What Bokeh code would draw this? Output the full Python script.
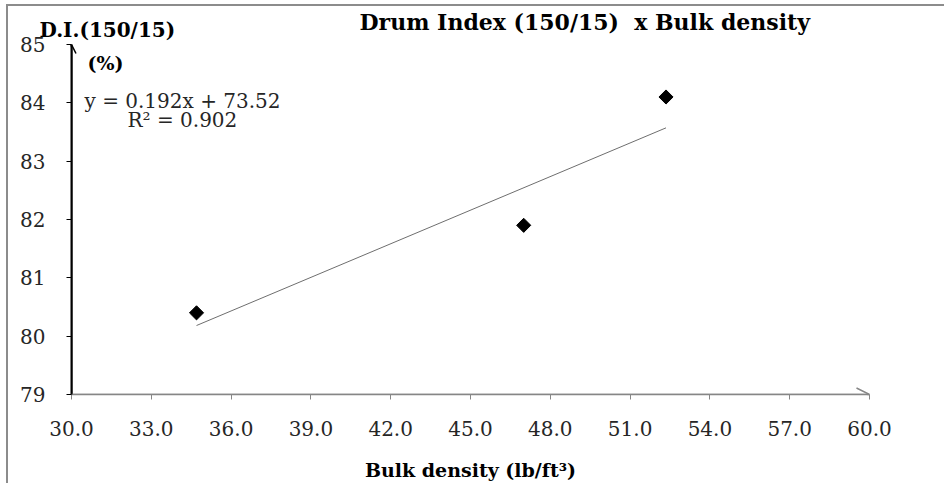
import math
from bokeh.plotting import figure
from bokeh.models import (Label, Arrow, OpenHead, FixedTicker, PrintfTickFormatter,
                          ColumnDataSource, Range1d, Title)
from bokeh.embed import file_html
from bokeh.resources import INLINE

# ---- data ----
bulk_density = [34.7, 47.0, 52.35]          # lb/ft^3
drum_index = [80.4, 81.9, 84.1]             # D.I.(150/15) %
trend_slope = 0.192
trend_intercept = 73.52
r_squared = 0.902
x_ticks = [30.0, 33.0, 36.0, 39.0, 42.0, 45.0, 48.0, 51.0, 54.0, 57.0, 60.0]
y_ticks = [79, 80, 81, 82, 83, 84, 85]

title_text = "Drum Index (150/15)\u00a0 x Bulk density"
x_label_text = "Bulk density (lb/ft\u00b3)"
y_label_line1 = "D.I.(150/15)"
y_label_line2 = "(%)"
eq_text = "y = %.3fx + %.2f" % (trend_slope, trend_intercept)
r2_text = "R\u00b2 = %.3f" % r_squared

FONT = "DejaVu Serif"
X_MIN, X_MAX = x_ticks[0], x_ticks[-1]
Y_MIN, Y_MAX = y_ticks[0], y_ticks[-1]

p = figure(frame_width=798, frame_height=350,
           x_range=Range1d(X_MIN, X_MAX), y_range=Range1d(Y_MIN, Y_MAX),
           min_border_left=63, min_border_right=75, min_border_top=38, min_border_bottom=80,
           output_backend="svg", toolbar_location=None)
p.styles = {"border-top": "2px solid #8c8c8c", "border-left": "2px solid #8c8c8c",
            "margin-top": "4px", "margin-left": "6px"}
p.title.visible = False
p.xgrid.visible = False
p.ygrid.visible = False
p.outline_line_color = None
p.background_fill_color = "white"
p.border_fill_color = "white"

# titles placed in the top panel (not clipped by the frame)
p.add_layout(Title(text=y_label_line1, align="left", offset=-32, standoff=6,
                   text_font=FONT, text_font_style="bold", text_font_size="20px",
                   text_color="black"), "above")
p.add_layout(Title(text=title_text, align="left", offset=288, standoff=-44,
                   text_font=FONT, text_font_style="bold", text_font_size="22px",
                   text_color="black"), "above")

# x axis
xa = p.xaxis[0]
xa.ticker = FixedTicker(ticks=x_ticks)
xa.formatter = PrintfTickFormatter(format="%.1f")
xa.axis_line_color = "#868686"
xa.axis_line_width = 1.5
xa.major_tick_line_color = "#868686"
xa.major_tick_line_width = 1
xa.major_tick_out = 5
xa.major_tick_in = 0
xa.minor_tick_line_color = None
xa.major_label_text_font = FONT
xa.major_label_text_font_size = "20px"
xa.major_label_text_color = "#262626"
xa.major_label_standoff = 21
xa.axis_label = x_label_text
xa.axis_label_text_font = FONT
xa.axis_label_text_font_style = "bold"
xa.axis_label_text_font_size = "19px"
xa.axis_label_text_color = "black"
xa.axis_label_standoff = 20

# y axis
ya = p.yaxis[0]
ya.ticker = FixedTicker(ticks=y_ticks)
ya.axis_line_color = "black"
ya.axis_line_width = 2
ya.major_tick_line_color = "black"
ya.major_tick_line_width = 1
ya.major_tick_out = 5
ya.major_tick_in = 0
ya.minor_tick_line_color = None
ya.major_label_text_font = FONT
ya.major_label_text_font_size = "20px"
ya.major_label_text_color = "#262626"
ya.major_label_standoff = 21

# axis arrow heads
p.add_layout(Arrow(end=OpenHead(size=9, line_color="black", line_width=1.5),
                   x_start=X_MIN, y_start=Y_MIN, x_end=X_MIN, y_end=Y_MAX,
                   line_color="black", line_width=2))
p.add_layout(Arrow(end=OpenHead(size=13, line_color="#868686", line_width=1.5),
                   x_start=X_MIN, y_start=Y_MIN, x_end=X_MAX, y_end=Y_MIN,
                   line_color="#868686", line_width=1.5))

# trend line
tx = [min(bulk_density), max(bulk_density)]
ty = [trend_slope * v + trend_intercept for v in tx]
p.line(tx, ty, line_color="#6e6e6e", line_width=1)

# points
src = ColumnDataSource(dict(x=bulk_density, y=drum_index))
p.scatter("x", "y", source=src, marker="square", angle=math.pi / 4, size=10,
          fill_color="black", line_color="black")

# texts inside the frame (screen units relative to the frame: y up from its bottom)
def lab(text, x, y, **kw):
    p.add_layout(Label(text=text, x=x, y=y, x_units="screen", y_units="screen",
                       text_font=FONT, text_baseline="middle", **kw))

lab(y_label_line2, 16, 332, text_font_size="19px", text_font_style="bold", text_color="black")
lab(eq_text, 13, 294, text_font_size="20px", text_color="#262626")
lab(r2_text, 56, 275, text_font_size="20px", text_color="#262626")

open("out.html", "w").write(file_html(p, INLINE))
